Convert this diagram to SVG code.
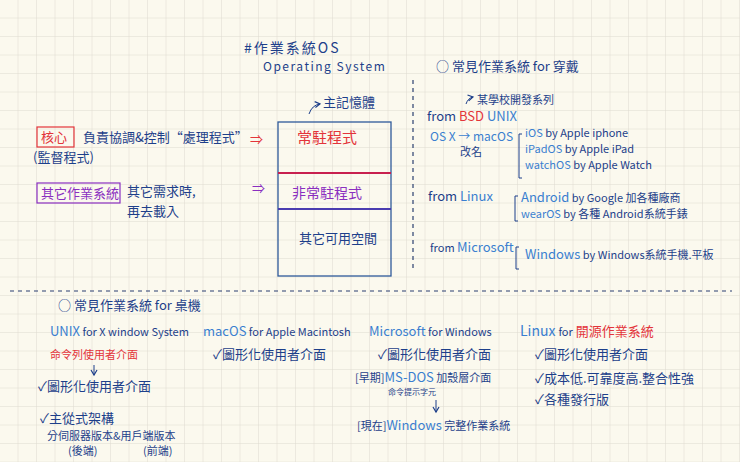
<svg xmlns="http://www.w3.org/2000/svg" width="740" height="462" viewBox="0 0 740 462">
<defs>
<pattern id="grid" width="18.5" height="18.5" patternUnits="userSpaceOnUse" x="0" y="0">
<path d="M18.5 0V18.5H0" fill="none" stroke="#dedbd0" stroke-width="1"/>
</pattern>
<marker id="ah" markerWidth="8" markerHeight="8" refX="6" refY="4" orient="auto"><path d="M1 1L6 4L1 7" fill="none" stroke="#1d3f8a" stroke-width="1.2"/></marker>
</defs>
<style>
text{font-family:"Noto Sans CJK TC","Noto Sans",sans-serif;font-size:13px;fill:#1d3f8a}
.b{fill:#3a7fd0}.r{fill:#e3343a}.p{fill:#8a2fc0}.s{font-size:11px}.n{font-size:13px}.t{font-size:8px}.l{font-size:15px}
</style>
<rect width="740" height="462" fill="#fbf9ee"/>
<rect width="740" height="462" fill="url(#grid)"/>
<g id="title">
<text x="244" y="53" style="font-size:14px;letter-spacing:2px">#作業系統OS</text>
<text x="263" y="71" style="font-size:12px;letter-spacing:1.5px">Operating System</text>
</g>
<g id="memory">
<path d="M309 114q3-9 11-10" fill="none" stroke="#1d3f8a" marker-end="url(#ah)"/>
<text x="323" y="107">主記憶體</text>
<rect x="278" y="122" width="113" height="154" fill="none" stroke="#2e5a9a" stroke-width="1.3"/>
<line x1="278" y1="173" x2="391" y2="173" stroke="#c8204f" stroke-width="2"/>
<line x1="278" y1="209" x2="391" y2="209" stroke="#4a3cb0" stroke-width="2"/>
<text x="297" y="143" class="r l">常駐程式</text>
<text x="292" y="198" class="p" style="font-size:14px">非常駐程式</text>
<text x="299" y="243">其它可用空間</text>
</g>
<g id="kernel">
<rect x="37" y="127" width="37" height="20" fill="none" stroke="#e3343a" stroke-width="1.2"/>
<text x="41" y="142" class="r">核心</text>
<text x="83" y="142">負責協調&amp;控制“處理程式”</text>
<text x="33" y="162">(監督程式)</text>
<text x="250" y="144" class="r">⇒</text>
</g>
<g id="other">
<rect x="37" y="183" width="83" height="20" fill="none" stroke="#8a2fc0" stroke-width="1.2"/>
<text x="41" y="198" class="p">其它作業系統</text>
<text x="127" y="196">其它需求時,</text>
<text x="127" y="216">再去載入</text>
<text x="252" y="193" class="p">⇒</text>
</g>
<g id="connectors">
<line x1="413" y1="80" x2="413" y2="268" stroke="#2a3f70" stroke-width="1.2" stroke-dasharray="4 4"/>
<line x1="10" y1="291" x2="732" y2="291" stroke="#2a3f70" stroke-width="1.2" stroke-dasharray="4 4"/>
</g>
<g id="wearable">
<text x="436" y="71">○ 常見作業系統 for 穿戴</text>
<path d="M466 104q2-6 7-7" fill="none" stroke="#1d3f8a" marker-end="url(#ah)"/>
<text x="477" y="104" class="s">某學校開發系列</text>
<text x="427" y="121">from <tspan class="r">BSD</tspan> <tspan class="b">UNIX</tspan></text>
<text x="430" y="141" class="b" style="font-size:12px">OS X → macOS</text>
<text x="460" y="156" class="s">改名</text>
<path d="M522 134h-3v44h3" fill="none" stroke="#1d3f8a"/>
<text x="525" y="137" class="s"><tspan class="b">iOS</tspan> by Apple iphone</text>
<text x="525" y="153" class="s"><tspan class="b">iPadOS</tspan> by Apple iPad</text>
<text x="525" y="169" class="s"><tspan class="b">watchOS</tspan> by Apple Watch</text>
<text x="428" y="201">from <tspan class="b">Linux</tspan></text>
<path d="M518 196h-3v25h3" fill="none" stroke="#1d3f8a"/>
<text x="521" y="202" class="s"><tspan class="b n">Android</tspan> by Google 加各種廠商</text>
<text x="521" y="218" class="s"><tspan class="b">wearOS</tspan> by 各種 Android系統手錶</text>
<text x="430" y="252" class="s">from <tspan class="b n">Microsoft</tspan></text>
<path d="M519 247h-3v22h3" fill="none" stroke="#1d3f8a"/>
<text x="525" y="259" class="s"><tspan class="b n">Windows</tspan> by Windows系統手機.平板</text>
</g>
<g id="desktop">
<text x="58" y="310">○ 常見作業系統 for 桌機</text>
</g>
<g id="unix">
<text x="50" y="336" class="s"><tspan class="b n">UNIX</tspan> for X window System</text>
<text x="50" y="359" class="r s">命令列使用者介面</text>
<path d="M94 365v10" stroke="#1d3f8a" fill="none" marker-end="url(#ah)"/>
<text x="38" y="391">✓圖形化使用者介面</text>
<text x="40" y="423">✓主從式架構</text>
<text x="47" y="440" class="s">分伺服器版本&amp;用戶端版本</text>
<text x="68" y="455" class="s">(後端)</text>
<text x="143" y="455" class="s">(前端)</text>
</g>
<g id="macos">
<text x="203" y="336" class="s"><tspan class="b n">macOS</tspan> for Apple Macintosh</text>
<text x="213" y="359">✓圖形化使用者介面</text>
</g>
<g id="microsoft">
<text x="369" y="336" class="s"><tspan class="b n">Microsoft</tspan> for Windows</text>
<text x="378" y="359">✓圖形化使用者介面</text>
<text x="355" y="382" class="s">[早期]<tspan class="b n">MS-DOS</tspan> 加殼層介面</text>
<text x="388" y="395" class="t">命令提示字元</text>
<path d="M436 400v12" stroke="#1d3f8a" fill="none" marker-end="url(#ah)"/>
<text x="357" y="430" class="s">[現在]<tspan class="b n">Windows</tspan> 完整作業系統</text>
</g>
<g id="linux">
<text x="520" y="336"><tspan class="b" style="font-size:14px">Linux</tspan> <tspan class="s">for</tspan> <tspan class="r">開源作業系統</tspan></text>
<text x="535" y="359">✓圖形化使用者介面</text>
<text x="535" y="383">✓成本低.可靠度高.整合性強</text>
<text x="535" y="404">✓各種發行版</text>
</g>
</svg>
